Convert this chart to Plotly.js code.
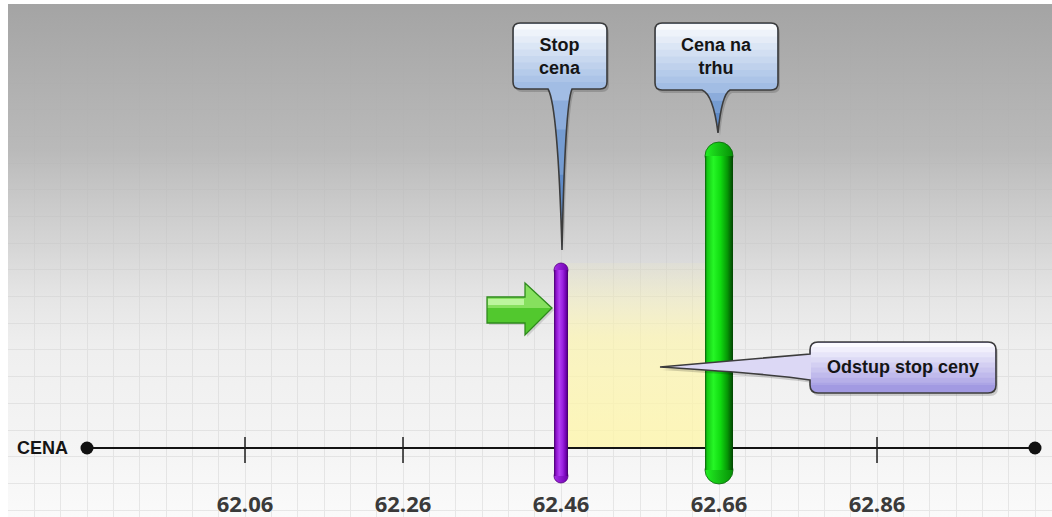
<!DOCTYPE html>
<html><head><meta charset="utf-8">
<script src="https://cdn.plot.ly/plotly-3.0.1.min.js"></script>
<style>html,body{margin:0;padding:0;background:#fff;}#chart{width:1052px;height:517px;}</style>
</head><body><div id="chart"></div>
<script>
// ---------------- DATA ----------------
const tickValues = [62.06, 62.26, 62.46, 62.66, 62.86];
const tickLabels = ['62.06', '62.26', '62.46', '62.66', '62.86'];
const axisEnds = [61.86, 63.06];
const axisLabel = 'CENA';
const markerLabels = ['Stop<br>cena', 'Cena na<br>trhu'];
const markerPrices = [62.46, 62.66];
const markerTops = [185, 306];      // arbitrary height units above the price axis
const markerBottoms = [-35, -36];
const gapLabel = 'Odstup stop ceny';

// ---------------- LAYOUT / STYLE ----------------
const W = 1052, H = 517, M = {l: 8, t: 4, r: 0, b: 0};
const xRange = [61.76, 63.0815];
const yRange = [-69, 444];
const pxPerX = (W - M.l - M.r) / (xRange[1] - xRange[0]);
const FONT = 'Liberation Sans';

function hex(c){c=c.replace('#','');return [0,2,4].map(i=>parseInt(c.substr(i,2),16));}
function mix(a,b,t){const A=hex(a),B=hex(b);return 'rgb('+A.map((v,i)=>Math.round(v+(B[i]-v)*t)).join(',')+')';}

const barStyles = [
  {w: 14, scale: [[0,'#43006a'],[0.14,'#8a10c8'],[0.38,'#b23ef2'],[0.62,'#9a20e0'],[0.86,'#6e00ac'],[1,'#3e0062']],
   cap: '#a52ee8', capEnd: '#7000b0', capLine: '#55007e'},
  {w: 28, scale: [[0,'#0a560a'],[0.07,'#12c812'],[0.3,'#26f626'],[0.55,'#10dc10'],[0.8,'#069606'],[1,'#024402']],
   cap: '#22f022', capEnd: '#069006', capLine: '#0d650d'}
];

const traces = [];

// background gradient (over grid, translucent at the bottom so the grid shows through)
traces.push({
  x: [xRange[0], xRange[1], xRange[1], xRange[0]],
  y: [yRange[0], yRange[0], yRange[1], yRange[1]],
  mode: 'lines', fill: 'toself', line: {width: 0, color: 'rgba(0,0,0,0)'},
  fillgradient: {type: 'vertical', start: yRange[0], stop: yRange[1], colorscale: [
    [0, 'rgba(244,244,244,0.45)'], [0.131, 'rgba(234,234,234,0.5)'], [0.326, 'rgba(228,228,228,0.6)'],
    [0.423, 'rgba(219,219,219,0.7)'], [0.52, 'rgba(206,206,206,0.82)'], [0.715, 'rgba(182,182,182,0.95)'],
    [1, 'rgba(164,164,164,1)']]},
  hoverinfo: 'skip', showlegend: false
});

// yellow gap between stop price and market price
traces.push({
  x: [markerPrices[0], markerPrices[1], markerPrices[1], markerPrices[0]],
  y: [0, 0, markerTops[0], markerTops[0]],
  mode: 'lines', fill: 'toself', line: {width: 0, color: 'rgba(0,0,0,0)'},
  fillgradient: {type: 'vertical', start: 0, stop: markerTops[0], colorscale: [
    [0, 'rgba(255,246,168,0.78)'], [0.6, 'rgba(255,246,168,0.62)'], [1, 'rgba(255,246,168,0.1)']]},
  hoverinfo: 'skip', showlegend: false
});

// price axis line with end dots
traces.push({
  x: axisEnds, y: [0, 0], mode: 'lines+markers',
  line: {color: '#141414', width: 2}, marker: {size: 13, color: '#111'},
  hoverinfo: 'skip', showlegend: false
});
// tick marks
traces.push({
  x: tickValues.flatMap(v => [v, v, null]),
  y: tickValues.flatMap(() => [-15, 11, null]),
  mode: 'lines', line: {color: '#1e1e1e', width: 1.5},
  hoverinfo: 'skip', showlegend: false
});

// price bars (rounded caps + gradient body)
markerPrices.forEach((p, i) => {
  const st = barStyles[i], r = st.w / 2, hw = r / pxPerX;
  const yt = markerTops[i] - r, yb = markerBottoms[i] + r;
  traces.push({
    x: [p, p], y: [yt, yb], mode: 'markers',
    marker: {size: st.w, color: st.cap, gradient: {type: 'horizontal', color: st.capEnd}, line: {color: st.capLine, width: 0.8}},
    hoverinfo: 'skip', showlegend: false
  });
  traces.push({
    x: [p - hw, p + hw, p + hw, p - hw], y: [yb, yb, yt, yt],
    mode: 'lines', fill: 'toself', line: {width: 0, color: 'rgba(0,0,0,0)'},
    fillgradient: {type: 'horizontal', start: p - hw, stop: p + hw, colorscale: st.scale},
    hoverinfo: 'skip', showlegend: false
  });
});

// tick labels
traces.push({
  x: tickValues, y: tickValues.map(() => -58), mode: 'text', text: tickLabels,
  textposition: 'middle center',
  textfont: {family: 'Open Sans', size: 22, color: '#3a3a3a', weight: 700},
  hoverinfo: 'skip', showlegend: false
});

// ---------------- DECORATIONS (pixel offsets around data anchors) ----------------
const f = v => (Math.round(v * 100) / 100).toString();
function toPath(segs, ox = 0, oy = 0) {
  return segs.map(s => s[0] + (s.length > 1 ? ' ' + s.slice(1).map(p => f(p[0] + ox) + ',' + f(-(p[1] + oy))).join(' ') : '')).join(' ');
}
function shp(anchor, segs, fill, line, ox, oy) {
  return {type: 'path', xref: 'x', yref: 'y', xsizemode: 'pixel', ysizemode: 'pixel',
    xanchor: anchor.x, yanchor: anchor.y, path: toPath(segs, ox, oy),
    fillcolor: fill || 'rgba(0,0,0,0)', line: line || {width: 0, color: 'rgba(0,0,0,0)'}, layer: 'above'};
}
const qpt = (P0, P1, P2, t) => [0, 1].map(k => (1 - t) * (1 - t) * P0[k] + 2 * (1 - t) * t * P1[k] + t * t * P2[k]);
const lerpP = (A, B, t) => [A[0] + (B[0] - A[0]) * t, A[1] + (B[1] - A[1]) * t];

function boxBands(anchor, b, top, bottom, shapes) {
  const N = 9;
  for (let k = 1; k <= N; k++) {
    let yk = b.T + (b.B - b.T) * (1 - k / (N + 1));
    yk = Math.min(yk, b.B - b.r);
    const c = mix(bottom, top, k / N), r = b.r - 1;
    shapes.push(shp(anchor, [
      ['M', [b.L + 1 + r, b.T + 1]], ['L', [b.R - 1 - r, b.T + 1]], ['Q', [b.R - 1, b.T + 1], [b.R - 1, b.T + 1 + r]],
      ['L', [b.R - 1, yk]], ['L', [b.L + 1, yk]], ['L', [b.L + 1, b.T + 1 + r]], ['Q', [b.L + 1, b.T + 1], [b.L + 1 + r, b.T + 1]], ['Z']
    ], c));
  }
}

function calloutDown(anchor, b, t, col, shapes) {
  const tip = [t.tx, t.ty], len = t.ty - b.B;
  const cR = [t.tx + (t.xr - t.tx) * 0.3, b.B + len * 0.1];
  const cL = [t.tx + (t.xl - t.tx) * 0.3, b.B + len * 0.1];
  const full = [
    ['M', [b.L + b.r, b.T]], ['L', [b.R - b.r, b.T]], ['Q', [b.R, b.T], [b.R, b.T + b.r]],
    ['L', [b.R, b.B - b.r]], ['Q', [b.R, b.B], [b.R - b.r, b.B]], ['L', [t.xr, b.B]],
    ['Q', cR, tip], ['Q', cL, [t.xl, b.B]], ['L', [b.L + b.r, b.B]],
    ['Q', [b.L, b.B], [b.L, b.B - b.r]], ['L', [b.L, b.T + b.r]], ['Q', [b.L, b.T], [b.L + b.r, b.T]], ['Z']
  ];
  shapes.push(shp(anchor, full, 'rgba(0,0,0,0.16)', null, 2, 3));
  shapes.push(shp(anchor, full, col.bottom));
  [0.2, 0.45, 0.7].forEach((t0, i) => {
    const PR0 = [t.xr, b.B], PL0 = [t.xl, b.B];
    const sR = qpt(PR0, cR, tip, t0), ccR = lerpP(cR, tip, t0);
    const sL = qpt(PL0, cL, tip, t0), ccL = lerpP(cL, tip, t0);
    shapes.push(shp(anchor, [['M', sR], ['Q', ccR, tip], ['Q', ccL, sL], ['Z']], mix(col.bottom, col.tip, (i + 1) / 3)));
  });
  boxBands(anchor, b, col.top, col.bottom, shapes);
  shapes.push(shp(anchor, full, null, {color: '#3c3c3c', width: 1.6}));
}

function calloutLeft(anchor, b, t, col, shapes) {
  const tip = [t.tx, t.ty];
  const cLow = [b.L - (b.L - t.tx) * 0.25, t.yLow - 6];
  const full = [
    ['M', [b.L + b.r, b.T]], ['L', [b.R - b.r, b.T]], ['Q', [b.R, b.T], [b.R, b.T + b.r]],
    ['L', [b.R, b.B - b.r]], ['Q', [b.R, b.B], [b.R - b.r, b.B]], ['L', [b.L + b.r, b.B]],
    ['Q', [b.L, b.B], [b.L, b.B - b.r]], ['L', [b.L, t.yLow]], ['Q', cLow, tip], ['L', [b.L, t.yUp]],
    ['L', [b.L, b.T + b.r]], ['Q', [b.L, b.T], [b.L + b.r, b.T]], ['Z']
  ];
  const tail = [['M', [b.L + 1, t.yLow]], ['Q', cLow, tip], ['L', [b.L + 1, t.yUp]], ['Z']];
  shapes.push(shp(anchor, full, 'rgba(0,0,0,0.16)', null, 2, 3));
  shapes.push(shp(anchor, full, col.bottom));
  shapes.push(shp(anchor, tail, col.tail));
  boxBands(anchor, b, col.top, col.bottom, shapes);
  shapes.push(shp(anchor, full, null, {color: '#3c3c3c', width: 1.6}));
}

const shapes = [];
const blue = {top: '#f8fafd', bottom: '#a2bde4', tip: '#5f8bc8'};
const stopAnchor = {x: markerPrices[0], y: markerTops[0]};
const mktAnchor = {x: markerPrices[1], y: markerTops[1]};
const gapAnchor = {x: (markerPrices[0] + markerPrices[1]) / 2, y: 0};

// green arrow pointing at the stop price bar
const arrow = [['M', [-74, 34]], ['L', [-36, 34]], ['L', [-36, 20]], ['L', [-9, 45]], ['L', [-36, 72]], ['L', [-36, 60]], ['L', [-74, 60]], ['Z']];
shapes.push(shp(stopAnchor, arrow, 'rgba(0,0,0,0.12)', null, 2, 2));
shapes.push(shp(stopAnchor, arrow, '#52c82e'));
shapes.push(shp(stopAnchor, [['M', [-74, 34]], ['L', [-36, 34]], ['L', [-36, 20]], ['L', [-10, 45]], ['L', [-74, 45]], ['Z']], '#86e05e'));
shapes.push(shp(stopAnchor, [['M', [-73, 36]], ['L', [-37, 36]], ['L', [-37, 42]], ['L', [-73, 42]], ['Z']], 'rgba(196,248,168,0.85)'));
shapes.push(shp(stopAnchor, arrow, null, {color: '#2f8a1e', width: 1.3}));

calloutDown(stopAnchor, {L: -48, R: 46, T: -240, B: -174, r: 7}, {xl: -13, xr: 11, tx: 1, ty: -13}, blue, shapes);
calloutDown(mktAnchor, {L: -64, R: 59, T: -119, B: -52, r: 7}, {xl: -17, xr: 11, tx: -1, ty: -9}, blue, shapes);
calloutLeft(gapAnchor, {L: 170, R: 356, T: -106, B: -55, r: 8}, {yUp: -94, yLow: -68, tx: 20, ty: -81},
  {top: '#fbfaff', bottom: '#a29ae2', tail: '#dcd8f5'}, shapes);

const textFont = {family: FONT, size: 18, color: '#151515', weight: 700};
const annotations = [
  {x: stopAnchor.x, y: stopAnchor.y, xref: 'x', yref: 'y', text: markerLabels[0], showarrow: false, xshift: -1, yshift: 207, font: textFont, align: 'center'},
  {x: mktAnchor.x, y: mktAnchor.y, xref: 'x', yref: 'y', text: markerLabels[1], showarrow: false, xshift: -3, yshift: 86, font: textFont, align: 'center'},
  {x: gapAnchor.x, y: gapAnchor.y, xref: 'x', yref: 'y', text: gapLabel, showarrow: false, xshift: 263, yshift: 81, font: {family: FONT, size: 18, color: '#151515', weight: 700}},
  {x: axisEnds[0], y: 0, xref: 'x', yref: 'y', text: axisLabel, showarrow: false, xanchor: 'right', xshift: -17, font: {family: FONT, size: 18, color: '#151515', weight: 700}}
];

const layout = {
  width: W, height: H, margin: M, paper_bgcolor: '#ffffff', plot_bgcolor: '#ffffff',
  showlegend: false,
  xaxis: {range: xRange, showgrid: true, gridcolor: '#dcdcdc', gridwidth: 1, tick0: tickValues[0], dtick: 0.2 / 6,
    showticklabels: false, ticks: '', zeroline: false, showline: false, fixedrange: true},
  yaxis: {range: yRange, showgrid: true, gridcolor: '#dcdcdc', gridwidth: 1, tick0: 18, dtick: 26.67,
    showticklabels: false, ticks: '', zeroline: false, showline: false, fixedrange: true},
  shapes: shapes, annotations: annotations
};

Plotly.newPlot('chart', traces, layout, {staticPlot: true, displayModeBar: false});
</script>
</body></html>
